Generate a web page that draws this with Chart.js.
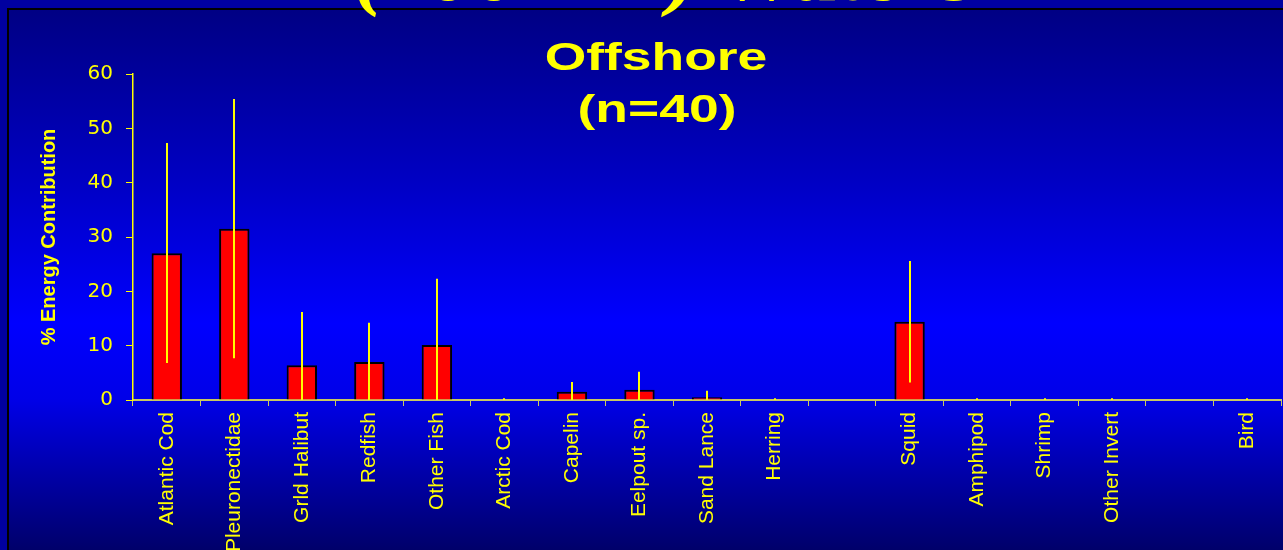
<!DOCTYPE html>
<html>
<head>
<meta charset="utf-8">
<script src="https://cdn.jsdelivr.net/npm/chart.js@4"></script>
<style>
    html, body { margin: 0; padding: 0; }
    body {
        width: 1283px; height: 550px; overflow: hidden; position: relative;
        background: #0000a0;
        font-family: "Liberation Sans", Arial, sans-serif;
    }
    #panel {
        position: absolute; left: 7px; top: 8px; right: 0; bottom: 0;
        border-left: 2px solid #000; border-top: 2px solid #000;
        background: linear-gradient(to bottom, #000084 0%, #0000c0 30%, #0000ff 58%, #0000e8 72%, #0000a8 86%, #00006a 100%);
    }
    #chartCanvas { position: absolute; left: 0; top: 0; }
    .ttl {
        position: absolute; color: #ffff00; font-weight: bold; white-space: nowrap;
        font-size: 39px; line-height: 39px;
        transform: translateX(-50%) scaleX(1.37);
    }
    #bigTitle {
        position: absolute; left: 665px; top: -67px; white-space: nowrap;
        color: #ffff00; font-family: "Liberation Serif", "Times New Roman", serif;
        font-style: italic; font-weight: bold; font-size: 80px; line-height: 80px;
        transform: translateX(-50%) scaleX(1.14);
    }
</style>
</head>
<body>
<div id="panel"></div>
<canvas id="chartCanvas" width="1283" height="550"></canvas>
<div id="bigTitle">(200NM) Waters</div>
<div class="ttl" style="left:656px; top:37px;">Offshore</div>
<div class="ttl" style="left:657px; top:89px;">(n=40)</div>
<script>
// --- dados ---
const categories = ['Atlantic Cod', 'Pleuronectidae', 'Grld Halibut', 'Redfish', 'Other Fish',
    'Arctic Cod', 'Capelin', 'Eelpout sp.', 'Sand Lance', 'Herring', '',
    'Squid', 'Amphipod', 'Shrimp', 'Other Invert', '', 'Bird'];
const energyMean = [27.0, 31.5, 6.4, 7.0, 10.1, 0, 1.5, 1.9, 0.5, 0, null, 14.4, 0, 0, 0, null, 0];
const errLow = [6.8, 7.7, 0, 0, 0, 0, 0, 0, 0, 0, null, 3.2, 0, 0, 0, null, 0];
const errHigh = [47.3, 55.4, 16.2, 14.2, 22.3, 0.3, 3.3, 5.2, 1.7, 0.3, null, 25.6, 0.3, 0.3, 0.3, null, 0.3];
const yTicks = [0, 10, 20, 30, 40, 50, 60];

const YELLOW = '#ffff00';

// barras de erro (linha simples do mínimo ao máximo)
const errorBars = {
    id: 'errorBars',
    afterDatasetsDraw(chart) {
        const { ctx, scales: { x, y } } = chart;
        ctx.save();
        ctx.strokeStyle = YELLOW;
        ctx.lineWidth = 2;
        errHigh.forEach((hi, i) => {
            if (hi === null) return;
            const px = Math.round(x.getPixelForValue(i));
            ctx.beginPath();
            ctx.moveTo(px, y.getPixelForValue(errLow[i]));
            ctx.lineTo(px, y.getPixelForValue(hi));
            ctx.stroke();
        });
        ctx.restore();
    }
};

new Chart(document.getElementById('chartCanvas'), {
    type: 'bar',
    data: {
        labels: categories,
        datasets: [{
            data: energyMean,
            backgroundColor: '#ff0000',
            borderColor: '#000000',
            borderWidth: 2,
            barPercentage: 0.45,
            categoryPercentage: 1
        }]
    },
    options: {
        responsive: false,
        animation: false,
        layout: { padding: { top: 74, right: 2, left: 0, bottom: 0 } },
        plugins: { legend: { display: false }, tooltip: { enabled: false } },
        scales: {
            x: {
                offset: true,
                grid: { drawOnChartArea: false, tickLength: 6, color: '#c8c860', offset: true },
                border: { color: '#c8c860', width: 2 },
                ticks: {
                    color: YELLOW, autoSkip: false, minRotation: 90, maxRotation: 90, padding: 6,
                    font: { family: 'Liberation Sans', size: 21 }
                },
                afterFit(s) { s.height = 150; }
            },
            y: {
                min: 0, max: 60,
                afterBuildTicks(s) { s.ticks = yTicks.map(v => ({ value: v })); },
                grid: { drawOnChartArea: false, tickLength: 7, color: YELLOW },
                border: { color: YELLOW, width: 1.5 },
                ticks: {
                    color: YELLOW, padding: 13,
                    font: { family: 'DejaVu Sans', size: 20 }
                },
                title: {
                    display: true, text: '% Energy Contribution', color: YELLOW,
                    font: { family: 'Liberation Sans', size: 20, weight: 'bold' },
                    padding: { top: 37, bottom: 0 }
                },
                afterFit(s) { s.width = 133; }
            }
        }
    },
    plugins: [errorBars]
});
</script>
</body>
</html>
